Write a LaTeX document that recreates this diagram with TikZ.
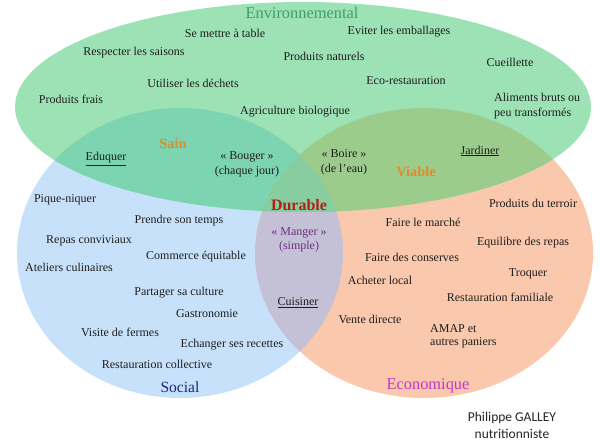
\documentclass[tikz,border=0pt]{standalone}
\usepackage{fontspec}
\setmainfont{Liberation Serif}
\newfontfamily\sigfont{Carlito}
\definecolor{cG}{HTML}{9DE2B5}
\definecolor{cB}{HTML}{C8E1FA}
\definecolor{cO}{HTML}{FAC8AC}
\definecolor{cGB}{HTML}{7DD4B0}
\definecolor{cGO}{HTML}{9CCC8C}
\definecolor{cBO}{HTML}{C4C0D6}
\definecolor{cGBO}{HTML}{87CDA0}
\definecolor{textc}{HTML}{1E1E1E}
\definecolor{envc}{HTML}{3E9E6E}
\definecolor{socc}{HTML}{1A2580}
\definecolor{ecoc}{HTML}{C834C8}
\definecolor{qualc}{HTML}{E08A2E}
\definecolor{durc}{HTML}{B0201A}
\definecolor{mangc}{HTML}{6E2E86}
\begin{document}
\begin{tikzpicture}[x=1pt,y=-1pt,
  txt/.style={font=\fontsize{12}{15}\selectfont, text=textc, inner sep=0pt, align=center},
  ltxt/.style={font=\fontsize{12}{15}\selectfont, text=textc, inner sep=0pt, align=left, anchor=north west},
  head/.style={font=\fontsize{16.4}{18}\selectfont, inner sep=0pt},
  qual/.style={font=\fontsize{14.3}{16}\selectfont\bfseries, text=qualc, inner sep=0pt}]
\path[use as bounding box, fill=white] (0,0) rectangle (600,442);
\def\Gpath{(303,107) ellipse [x radius=288pt, y radius=105pt]}
\def\Bpath{(180,253) ellipse [x radius=163pt, y radius=145pt]}
\def\Opath{(424,253) ellipse [x radius=169pt, y radius=145pt]}
\fill[cB] \Bpath;
\fill[cO] \Opath;
\fill[cG] \Gpath;
\begin{scope}\clip \Bpath; \fill[cBO] \Opath; \end{scope}
\begin{scope}\clip \Gpath; \fill[cGB] \Bpath; \end{scope}
\begin{scope}\clip \Gpath; \fill[cGO] \Opath; \end{scope}
\begin{scope}\clip \Gpath; \clip \Bpath; \fill[cGBO] \Opath; \end{scope}
% Environnemental
\node[head, text=envc] (env) at (302,13) {Environnemental};
\node[txt] (t1) at (225,33) {Se mettre à table};
\node[txt] (t2) at (399,32) {Eviter les emballages};
\node[txt] (t3) at (134,53) {Respecter les saisons};
\node[txt] (t4) at (324,56) {Produits naturels};
\node[txt] (t5) at (510,62) {Cueillette};
\node[txt] (t6) at (193,83) {Utiliser les déchets};
\node[txt] (t7) at (406,81) {Eco-restauration};
\node[txt] (t8) at (71,99) {Produits frais};
\node[ltxt] (t9) at (494,93) {Aliments bruts ou\\peu transformés};
\node[txt] (t10) at (295,112) {Agriculture biologique};
% middle
\node[qual] (sain) at (173,144) {Sain};
\node[qual] (viab) at (416,172) {Viable};
\node[txt] (edu) at (106,159) {\underline{Eduquer}};
\node[txt] (jar) at (480,151) {\underline{Jardiner}};
\node[txt] (boug) at (247,164) {«~Bouger~»\\(chaque jour)};
\node[txt] (boir) at (344,162.5) {«~Boire~»\\(de l’eau)};
\node[font=\fontsize{16}{18}\selectfont\bfseries, text=durc, inner sep=0pt] (dur) at (299,205) {Durable};
\node[txt, text=mangc, font=\fontsize{12}{14}\selectfont] (mang) at (299,240) {«~Manger~»\\(simple)};
\node[txt] (cuis) at (298,303) {\underline{Cuisiner}};
% Social
\node[txt] (s1) at (65,200) {Pique-niquer};
\node[txt] (s2) at (179,221) {Prendre son temps};
\node[txt] (s3) at (89,241) {Repas conviviaux};
\node[txt] (s4) at (196,257) {Commerce équitable};
\node[txt] (s5) at (69,267) {Ateliers culinaires};
\node[txt] (s6) at (179,293) {Partager sa culture};
\node[txt] (s7) at (207,314) {Gastronomie};
\node[txt] (s8) at (120,332) {Visite de fermes};
\node[txt] (s9) at (232,345) {Echanger ses recettes};
\node[txt] (s10) at (157,364) {Restauration collective};
\node[head, font=\fontsize{15.6}{18}\selectfont, text=socc] (soc) at (180,387) {Social};
% Economique
\node[txt] (e1) at (533,203) {Produits du terroir};
\node[txt] (e2) at (423,222) {Faire le marché};
\node[txt] (e3) at (523,243) {Equilibre des repas};
\node[txt] (e4) at (412,257) {Faire des conserves};
\node[txt] (e5) at (528,274) {Troquer};
\node[txt] (e6) at (380,280) {Acheter local};
\node[txt] (e7) at (500,297) {Restauration familiale};
\node[txt] (e8) at (370,319) {Vente directe};
\node[ltxt, font=\fontsize{12}{13}\selectfont] (e9) at (430,324) {AMAP et\\autres paniers};
\node[head, text=ecoc] (eco) at (428,386) {Economique};
% signature
\node[font=\sigfont\fontsize{13.5}{17}\selectfont, text=black!85, inner sep=0pt, align=center] (sig) at (512,425.5) {Philippe GALLEY\\nutritionniste};
\end{tikzpicture}
\end{document}
